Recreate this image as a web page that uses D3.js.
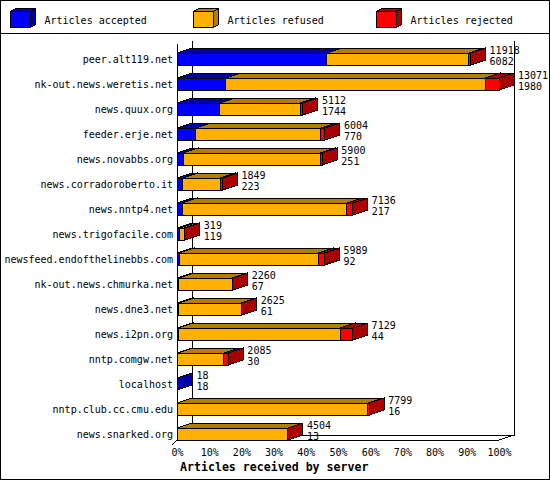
<!DOCTYPE html>
<html>
<head>
<meta charset="utf-8">
<script src="https://cdn.jsdelivr.net/npm/d3@7"></script>
<style>
    body { margin: 0; background: #fff; }
    text { font-family: "DejaVu Sans Mono", monospace; font-size: 10px; fill: #000; }
</style>
</head>
<body>
<script>
const servers = [
    "peer.alt119.net",
    "nk-out.news.weretis.net",
    "news.quux.org",
    "feeder.erje.net",
    "news.novabbs.org",
    "news.corradoroberto.it",
    "news.nntp4.net",
    "news.trigofacile.com",
    "newsfeed.endofthelinebbs.com",
    "nk-out.news.chmurka.net",
    "news.dne3.net",
    "news.i2pn.org",
    "nntp.comgw.net",
    "localhost",
    "nntp.club.cc.cmu.edu",
    "news.snarked.org"
];
// total offered and accepted are printed next to each bar
const total    = [11918, 13071, 5112, 6004, 5900, 1849, 7136, 319, 5989, 2260, 2625, 7129, 2085, 18, 7799, 4504];
const accepted = [6082, 1980, 1744, 770, 251, 223, 217, 119, 92, 67, 61, 44, 30, 18, 16, 13];
const rejected = [70, 555, 95, 160, 95, 95, 245, 20, 245, 10, 10, 510, 180, 0, 60, 10];
const refused  = total.map((t, i) => t - accepted[i] - rejected[i]);

const seriesNames = ["Articles accepted", "Articles refused", "Articles rejected"];
const seriesColors = ["#0000ff", "#ffb000", "#ff0000"];
const seriesDark = ["#0000a8", "#b47c00", "#aa0000"];
const tickLabels = ["0%", "10%", "20%", "30%", "40%", "50%", "60%", "70%", "80%", "90%", "100%"];

const svgWidth = 550, svgHeight = 480;
const dx = 15, dy = 5, barH = 12;

const svg = d3.select("body")
    .append("svg")
    .attr("width", svgWidth)
    .attr("height", svgHeight)
    .attr("shape-rendering", "crispEdges");

svg.append("rect")
    .attr("x", 0.5).attr("y", 0.5)
    .attr("width", svgWidth - 1).attr("height", svgHeight - 1)
    .attr("fill", "#fff").attr("stroke", "#000");

svg.append("line")
    .attr("x1", 0).attr("x2", svgWidth)
    .attr("y1", 33.5).attr("y2", 33.5)
    .attr("stroke", "#000");

const xScale = d3.scaleLinear()
    .domain([0, d3.max(total)])
    .range([177, 499]);

const yScale = d3.scaleBand()
    .domain(servers)
    .range([40, 440]);

// back wall / floor
const frame = svg.append("g").attr("stroke", "#000").attr("fill", "none");
frame.append("path").attr("d", `M${177 + dx},41V435H${499 + dx}V41`);
frame.append("path").attr("d", `M177,44V440H499L${499 + dx},435`);
frame.append("path").attr("d", "M177,440L172,445");

// legend
const legend = svg.append("g")
    .selectAll("g")
    .data(seriesNames)
    .enter()
    .append("g")
    .attr("transform", (d, i) => `translate(${10.5 + i * 183},11.5)`);

legend.append("path")
    .attr("d", "M0,0L5,-3H25L20,0Z")
    .attr("fill", (d, i) => seriesDark[i]).attr("stroke", "#000");
legend.append("path")
    .attr("d", "M20,0L25,-3V13L20,16Z")
    .attr("fill", (d, i) => seriesDark[i]).attr("stroke", "#000");
legend.append("rect")
    .attr("width", 20).attr("height", 16)
    .attr("fill", (d, i) => seriesColors[i]).attr("stroke", "#000");
legend.append("text")
    .attr("x", 34).attr("y", 12.5)
    .text(d => d);

// stacked 3d bars
const segments = [];
servers.forEach((s, i) => {
    const vals = [accepted[i], refused[i], rejected[i]];
    let start = 0;
    vals.forEach((v, k) => {
        if (v > 0) segments.push({ server: s, k: k, x0: start, x1: start + v });
        start += v;
    });
});

const bars = svg.append("g")
    .attr("stroke", "#000")
    .selectAll("g")
    .data(segments)
    .enter()
    .append("g");

const frontTop = s => yScale(s) + yScale.bandwidth() - barH;

bars.append("path")
    .attr("fill", d => seriesDark[d.k])
    .attr("d", d => {
        const a = xScale(d.x0), b = xScale(d.x1), t = frontTop(d.server);
        return `M${a},${t}L${a + dx},${t - dy}H${b + dx}L${b},${t}Z`;
    });
bars.append("path")
    .attr("fill", d => seriesDark[d.k])
    .attr("d", d => {
        const b = xScale(d.x1), t = frontTop(d.server);
        return `M${b},${t}L${b + dx},${t - dy}V${t + barH - dy}L${b},${t + barH}Z`;
    });
bars.append("rect")
    .attr("x", d => xScale(d.x0))
    .attr("y", d => frontTop(d.server))
    .attr("width", d => xScale(d.x1) - xScale(d.x0))
    .attr("height", barH)
    .attr("fill", d => seriesColors[d.k]);

// server names
svg.append("g")
    .selectAll("text")
    .data(servers)
    .enter()
    .append("text")
    .attr("x", 173)
    .attr("y", d => frontTop(d) + 10)
    .attr("text-anchor", "end")
    .text(d => d);

// value labels
const valueLabels = svg.append("g")
    .selectAll("g")
    .data(servers)
    .enter()
    .append("g");
valueLabels.append("text")
    .attr("x", (d, i) => xScale(total[i]) + dx + 4)
    .attr("y", d => frontTop(d) + 1)
    .text((d, i) => total[i]);
valueLabels.append("text")
    .attr("x", (d, i) => xScale(total[i]) + dx + 4)
    .attr("y", d => frontTop(d) + 12)
    .text((d, i) => accepted[i]);

// x axis
const xAxis = d3.axisBottom(xScale)
    .tickValues(tickLabels.map((t, i) => d3.max(total) * i / 10))
    .tickFormat((d, i) => tickLabels[i])
    .tickSize(0)
    .tickPadding(9);

const axisG = svg.append("g")
    .attr("transform", "translate(0,440)")
    .call(xAxis);
axisG.select(".domain").remove();
axisG.selectAll("text")
    .attr("font-family", "DejaVu Sans Mono")
    .attr("font-size", 10)
    .attr("fill", "#000");

svg.append("text")
    .attr("x", 180)
    .attr("y", 471)
    .style("font-weight", "bold")
    .style("font-size", "11.6px")
    .text("Articles received by server");
</script>
</body>
</html>
